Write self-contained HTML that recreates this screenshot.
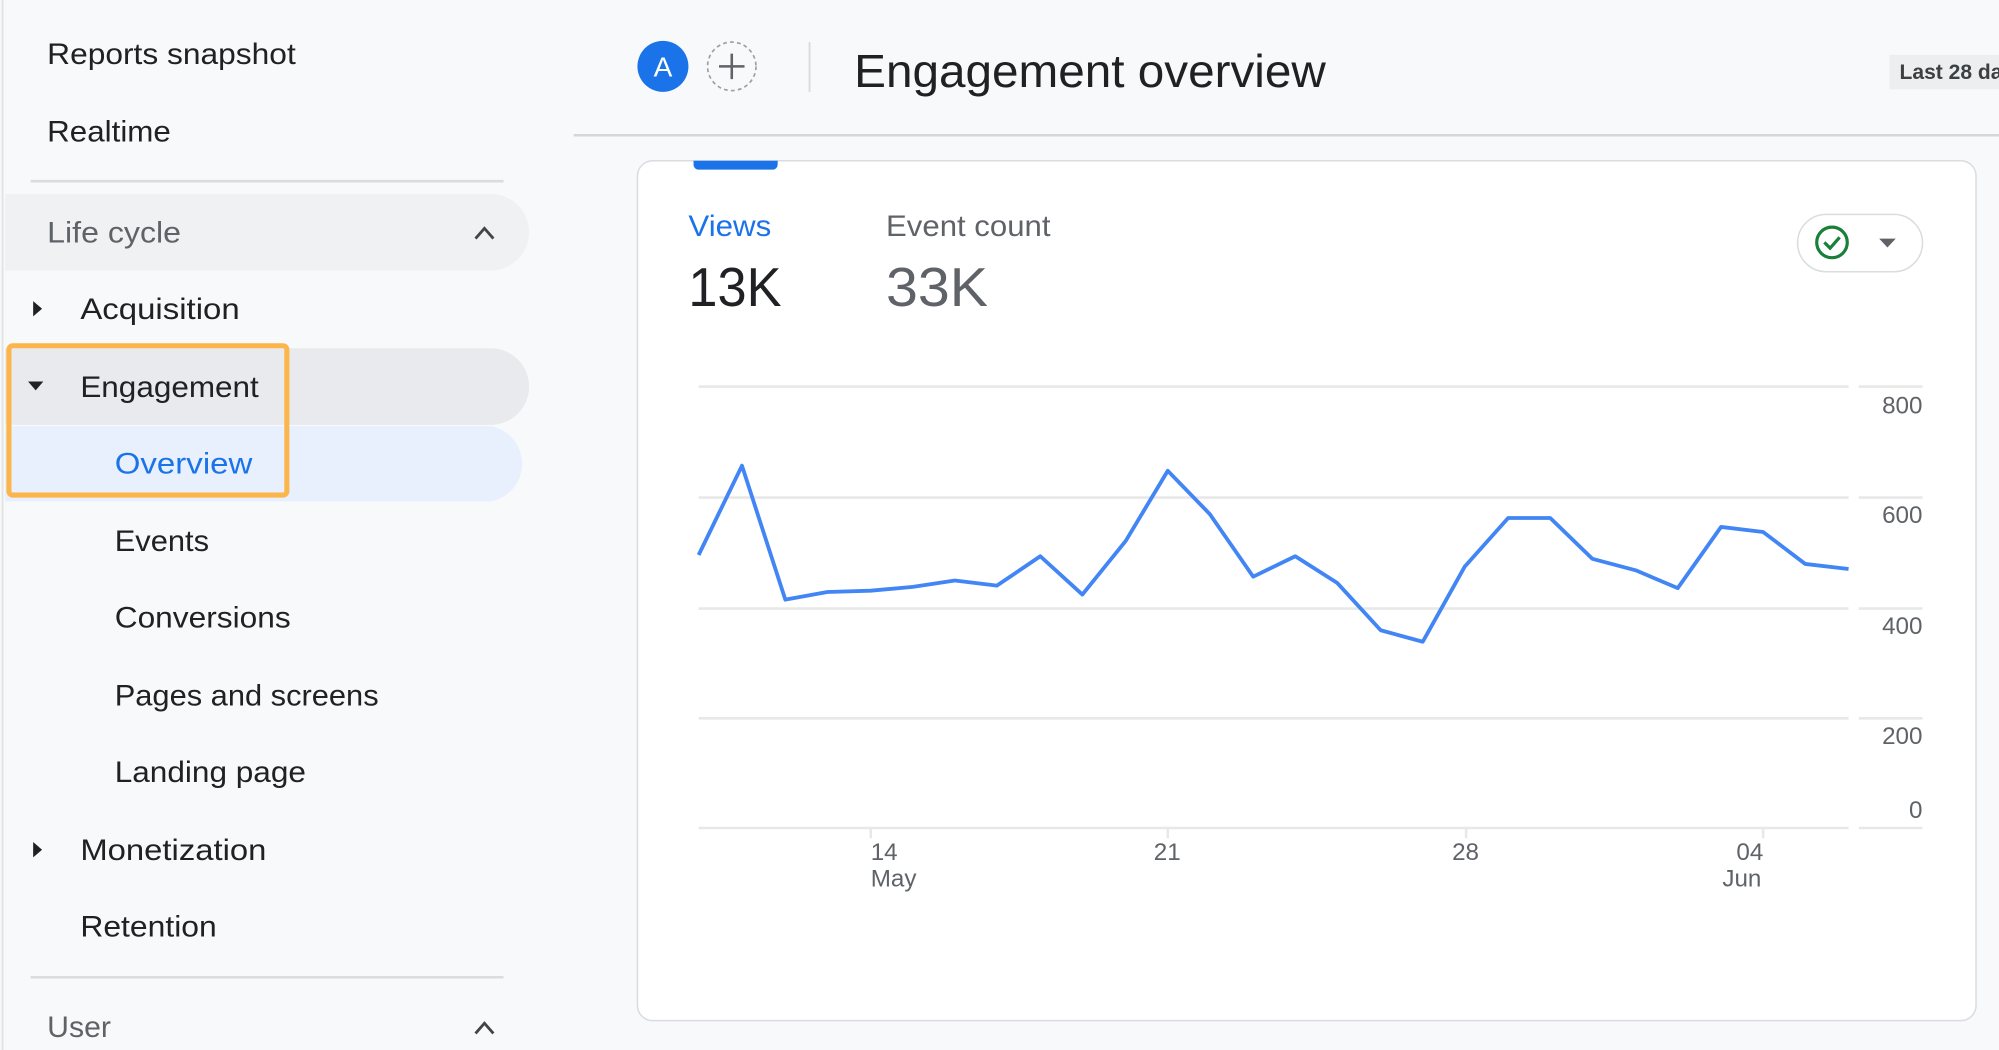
<!DOCTYPE html>
<html><head><meta charset="utf-8"><style>
html,body{margin:0;padding:0;background:#f8f9fa;}
svg{display:block;font-family:"Liberation Sans",Arial,sans-serif;}
</style></head><body>
<svg width="1999" height="1050" viewBox="0 0 1568 823" preserveAspectRatio="none" xmlns="http://www.w3.org/2000/svg">
<rect x="0" y="0" width="1568" height="823" fill="#f8f9fa"/>
<line x1="2" y1="0" x2="2" y2="823" stroke="#e3e3e3" stroke-width="1.5"/>
<!-- sidebar -->
<g font-size="23.5" fill="#202124" lengthAdjust="spacingAndGlyphs">
<text x="37" y="50" textLength="195" lengthAdjust="spacingAndGlyphs">Reports snapshot</text>
<text x="37" y="111" textLength="97" lengthAdjust="spacingAndGlyphs">Realtime</text>
<line x1="24" y1="142" x2="395" y2="142" stroke="#dadce0" stroke-width="2"/>
<path d="M4 152 H385 A30 30 0 0 1 385 212 H4 Z" fill="#eff1f3"/>
<text x="37" y="190" fill="#5f6368" textLength="105" lengthAdjust="spacingAndGlyphs">Life cycle</text>
<path d="M373 187 L380 179 L387 187" fill="none" stroke="#444" stroke-width="2.2"/>
<path d="M26 236 L33 242 L26 248 Z" fill="#202124"/>
<text x="63" y="250" textLength="125" lengthAdjust="spacingAndGlyphs">Acquisition</text>
<path d="M4 273 H385 A30 30 0 0 1 385 333 H4 Z" fill="#e8eaed"/>
<path d="M22 299 L34 299 L28 306 Z" fill="#202124"/>
<text x="63" y="311" textLength="140" lengthAdjust="spacingAndGlyphs">Engagement</text>
<path d="M4 334 H385 A30 30 0 0 1 385 393 H4 Z" fill="#e8f0fe"/>
<text x="90" y="371" fill="#1a73e8" textLength="108" lengthAdjust="spacingAndGlyphs">Overview</text>
<rect x="7" y="271" width="218" height="117" rx="3" fill="none" stroke="#fbb54b" stroke-width="4"/>
<text x="90" y="432" textLength="74" lengthAdjust="spacingAndGlyphs">Events</text>
<text x="90" y="492" textLength="138" lengthAdjust="spacingAndGlyphs">Conversions</text>
<text x="90" y="553" textLength="207" lengthAdjust="spacingAndGlyphs">Pages and screens</text>
<text x="90" y="613" textLength="150" lengthAdjust="spacingAndGlyphs">Landing page</text>
<path d="M26 660 L33 666 L26 672 Z" fill="#202124"/>
<text x="63" y="674" textLength="146" lengthAdjust="spacingAndGlyphs">Monetization</text>
<text x="63" y="734" textLength="107" lengthAdjust="spacingAndGlyphs">Retention</text>
<line x1="24" y1="766" x2="395" y2="766" stroke="#dadce0" stroke-width="2"/>
<text x="37" y="813" fill="#5f6368" textLength="50" lengthAdjust="spacingAndGlyphs">User</text>
<path d="M373 810 L380 802 L387 810" fill="none" stroke="#444" stroke-width="2.2"/>
</g>
<!-- header -->
<circle cx="520" cy="52" r="20" fill="#1a73e8"/>
<text x="520" y="60" font-size="22" fill="#fff" text-anchor="middle">A</text>
<circle cx="574" cy="52" r="19" fill="none" stroke="#9aa0a6" stroke-width="1.3" stroke-dasharray="3 2.5"/>
<path d="M564 52 H584 M574 42 V62" stroke="#5f6368" stroke-width="2"/>
<line x1="635" y1="33" x2="635" y2="72" stroke="#dadce0" stroke-width="1.5"/>
<text x="670" y="68" font-size="36" fill="#202124" textLength="370" lengthAdjust="spacingAndGlyphs">Engagement overview</text>
<rect x="1482" y="43" width="90" height="27" fill="#eceef0"/>
<text x="1490" y="62" font-size="16.5" font-weight="bold" fill="#3c4043">Last 28 days</text>
<line x1="450" y1="106" x2="1568" y2="106" stroke="#d4d6d9" stroke-width="2"/>
<!-- card -->
<rect x="500" y="126" width="1050" height="674" rx="12" fill="#fff" stroke="#dadce0" stroke-width="1.2"/>
<path d="M544 126 H610 V129 A4 4 0 0 1 606 133 H548 A4 4 0 0 1 544 129 Z" fill="#1a73e8"/>
<text x="540" y="185" font-size="23" fill="#1a73e8" textLength="65" lengthAdjust="spacingAndGlyphs">Views</text>
<text x="540" y="240" font-size="43" fill="#202124" textLength="73" lengthAdjust="spacingAndGlyphs">13K</text>
<text x="695" y="185" font-size="23" fill="#5f6368" textLength="129" lengthAdjust="spacingAndGlyphs">Event count</text>
<text x="695" y="240" font-size="43" fill="#5f6368" textLength="80" lengthAdjust="spacingAndGlyphs">33K</text>
<rect x="1410" y="168" width="98" height="45" rx="22.5" fill="#fff" stroke="#dadce0" stroke-width="1.2"/>
<circle cx="1437" cy="190" r="12" fill="none" stroke="#188038" stroke-width="2.5"/>
<path d="M1431 190 L1435.5 194.5 L1443 186" fill="none" stroke="#188038" stroke-width="2.5"/>
<path d="M1474 187 H1487 L1480.5 194 Z" fill="#5f6368"/>
<!-- chart -->
<g stroke="#e8e8e8" stroke-width="2">
<line x1="548" y1="303" x2="1450" y2="303"/><line x1="1458" y1="303" x2="1508" y2="303"/>
<line x1="548" y1="390" x2="1450" y2="390"/><line x1="1458" y1="390" x2="1508" y2="390"/>
<line x1="548" y1="477" x2="1450" y2="477"/><line x1="1458" y1="477" x2="1508" y2="477"/>
<line x1="548" y1="563" x2="1450" y2="563"/><line x1="1458" y1="563" x2="1508" y2="563"/>
<line x1="548" y1="649" x2="1450" y2="649"/><line x1="1458" y1="649" x2="1508" y2="649"/>
<line x1="683" y1="649" x2="683" y2="657"/><line x1="916" y1="649" x2="916" y2="657"/>
<line x1="1150" y1="649" x2="1150" y2="657"/><line x1="1383" y1="649" x2="1383" y2="657"/>
</g>
<g font-size="19" fill="#5f6368" text-anchor="end">
<text x="1508" y="324">800</text><text x="1508" y="410">600</text>
<text x="1508" y="497">400</text><text x="1508" y="583">200</text>
<text x="1508" y="641">0</text>
</g>
<g font-size="19" fill="#5f6368">
<text x="683" y="674">14</text><text x="683" y="695">May</text>
<text x="905" y="674">21</text><text x="1139" y="674">28</text>
<text x="1362" y="674">04</text><text x="1351" y="695">Jun</text>
</g>
<polyline fill="none" stroke="#4285f4" stroke-width="3" stroke-linejoin="round" points="548,435 582,365 616,470 649,464 683,463 716,460 749,455 782,459 816,436 849,466 883,424 916,369 949,403 983,452 1016,436 1049,457 1083,494 1116,503 1149,444 1183,406 1216,406 1249,438 1283,447 1316,461 1350,413 1383,417 1416,442 1450,446"/>
</svg>
</body></html>
